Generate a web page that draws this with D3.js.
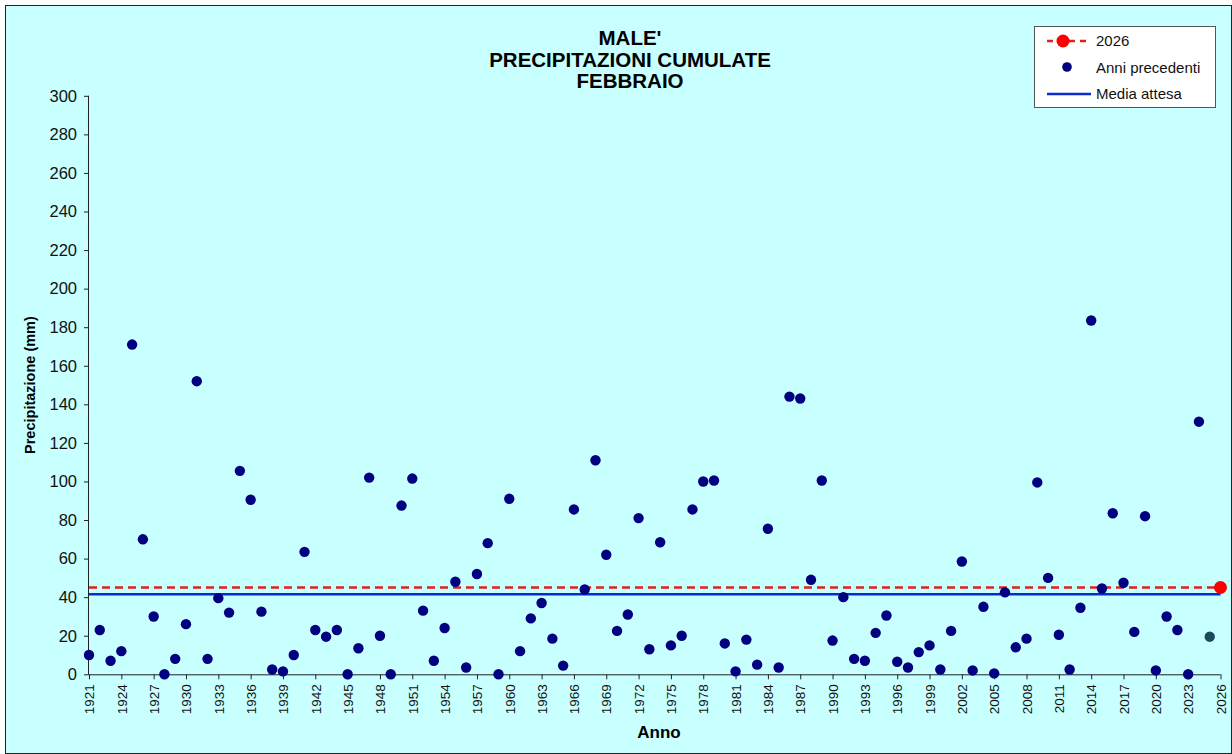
<!DOCTYPE html>
<html>
<head>
<meta charset="utf-8">
<script src="https://cdn.jsdelivr.net/npm/d3@7"></script>
<style>
  body { margin: 0; background: #fff; }
  svg { display: block; font-family: "Liberation Sans", Arial, sans-serif; }
</style>
</head>
<body>
<svg id="chart" width="1232" height="754"></svg>
<script>
// February cumulative precipitation, Male' (mm)
const years = d3.range(1921, 2026);
const precip = [
  10, 23, 7, 12, 171, 70, 30, 0, 8, 26,
  152, 8, 39.5, 32, 105.5, 90.5, 32.5, 2.5, 1.5, 10,
  63.5, 23, 19.5, 23, 0, 13.5, 102, 20, 0, 87.5,
  101.5, 33, 7, 24, 48, 3.5, 52, 68, 0, 91,
  12, 29, 37, 18.5, 4.5, 85.5, 44, 111, 62, 22.5,
  31, 81, 13, 68.5, 15, 20, 85.5, 100, 100.5, 16,
  1.5, 18, 5, 75.5, 3.5, 144, 143, 49, 100.5, 17.5,
  40, 8, 7, 21.5, 30.5, 6.5, 3.5, 11.5, 15, 2.5,
  22.5, 58.5, 2, 35, 0.5, 42.5, 14, 18.5, 99.5, 50,
  20.5, 2.5, 34.5, 183.5, 44.5, 83.5, 47.5, 22, 82, 2,
  30, 23, 0, 131, 19.5
];
const currentYear = 2026;
const currentValue = 45;   // 2026 (dashed red line + red dot)
const mediaAttesa = 41.5;  // expected mean (blue line)
const yTicks = d3.range(0, 301, 20);
const xTicks = d3.range(1921, 2027, 3);
const titleLines = ["MALE'", "PRECIPITAZIONI CUMULATE", "FEBBRAIO"];

const svg = d3.select("#chart");

// background + frame
svg.append("rect")
  .attr("x", 5.5).attr("y", 5.5)
  .attr("width", 1232 - 6).attr("height", 754 - 6)
  .attr("fill", "#c8ffff")
  .attr("stroke", "#222").attr("stroke-width", 1);

const x = d3.scaleLinear().domain([1921, 2026]).range([89, 1220.5]);
const y = d3.scaleLinear().domain([0, 300]).range([674.3, 95.8]);

// title
svg.append("text")
  .attr("x", 630).attr("y", 45)
  .attr("text-anchor", "middle")
  .attr("font-size", 20.5).attr("font-weight", "bold")
  .selectAll("tspan")
  .data(titleLines)
  .join("tspan")
  .attr("x", 630)
  .attr("dy", (d, i) => i === 0 ? 0 : 21.5)
  .text(d => d);

// axes
const yAxis = d3.axisLeft(y).tickValues(yTicks).tickSize(5).tickPadding(7);
const gy = svg.append("g")
  .attr("transform", `translate(${x(1921)},0)`)
  .call(yAxis);
gy.selectAll("text").attr("font-size", 16.5).attr("fill", "#111")
  .attr("font-family", "Liberation Sans, Arial, sans-serif");
gy.selectAll("line, path").attr("stroke", "#222");
gy.select(".domain").attr("d", `M-0.5,${y(300)}V${y(0)}`);

const xAxis = d3.axisBottom(x).tickValues(xTicks).tickFormat(d3.format("d")).tickSize(5).tickPadding(4);
const gx = svg.append("g")
  .attr("transform", `translate(0,${y(0)})`)
  .call(xAxis);
gx.selectAll("line, path").attr("stroke", "#222");
gx.select(".domain").attr("d", `M${x(1921)},0.5H${x(2026)}`);
gx.selectAll("text")
  .attr("font-size", 13.5).attr("fill", "#111")
  .attr("font-family", "Liberation Sans, Arial, sans-serif")
  .attr("transform", "rotate(-90)")
  .attr("text-anchor", "end")
  .attr("x", -10).attr("y", 0).attr("dy", "0.35em");

// axis titles
svg.append("text")
  .attr("transform", `translate(35,${(y(0) + y(300)) / 2}) rotate(-90)`)
  .attr("text-anchor", "middle")
  .attr("font-size", 14.5).attr("font-weight", "bold")
  .text("Precipitazione (mm)");

svg.append("text")
  .attr("x", 659).attr("y", 738)
  .attr("text-anchor", "middle")
  .attr("font-size", 17).attr("font-weight", "bold")
  .text("Anno");

// reference lines
svg.append("line")
  .attr("x1", x(1921)).attr("x2", x(currentYear))
  .attr("y1", y(mediaAttesa)).attr("y2", y(mediaAttesa))
  .attr("stroke", "#0a2cc8").attr("stroke-width", 2.5);

svg.append("line")
  .attr("x1", x(1921)).attr("x2", x(currentYear))
  .attr("y1", y(currentValue)).attr("y2", y(currentValue))
  .attr("stroke", "#e0201a").attr("stroke-width", 2.5)
  .attr("stroke-dasharray", "8 5");

// previous years
const pts = years.map((yr, i) => ({ year: yr, value: precip[i] }));
svg.append("g")
  .selectAll("circle")
  .data(pts)
  .join("circle")
  .attr("cx", d => x(d.year))
  .attr("cy", d => y(d.value))
  .attr("r", 5.2)
  .attr("fill", d => d.year === 2025 ? "#1d4a5a" : "#000080");

// current year
svg.append("circle")
  .attr("cx", x(currentYear)).attr("cy", y(currentValue))
  .attr("r", 6.5).attr("fill", "#ff0000");

// legend
const lg = svg.append("g");
lg.append("rect")
  .attr("x", 1034.5).attr("y", 26.5)
  .attr("width", 181).attr("height", 81)
  .attr("fill", "#fff").attr("stroke", "#555").attr("stroke-width", 1);

lg.append("line")
  .attr("x1", 1047).attr("x2", 1091).attr("y1", 41).attr("y2", 41)
  .attr("stroke", "#e0201a").attr("stroke-width", 2.5).attr("stroke-dasharray", "6 5");
lg.append("circle").attr("cx", 1063).attr("cy", 41).attr("r", 6.5).attr("fill", "#ff0000");
lg.append("circle").attr("cx", 1067).attr("cy", 67).attr("r", 4.8).attr("fill", "#000080");
lg.append("line")
  .attr("x1", 1047).attr("x2", 1091).attr("y1", 94).attr("y2", 94)
  .attr("stroke", "#0a2cc8").attr("stroke-width", 2.5);

const legendLabels = ["2026", "Anni precedenti", "Media attesa"];
lg.selectAll("text.lbl")
  .data(legendLabels)
  .join("text")
  .attr("class", "lbl")
  .attr("x", 1096)
  .attr("y", (d, i) => 41 + i * 26.5)
  .attr("dy", "0.35em")
  .attr("font-size", 15)
  .attr("fill", "#111")
  .text(d => d);
</script>
</body>
</html>
